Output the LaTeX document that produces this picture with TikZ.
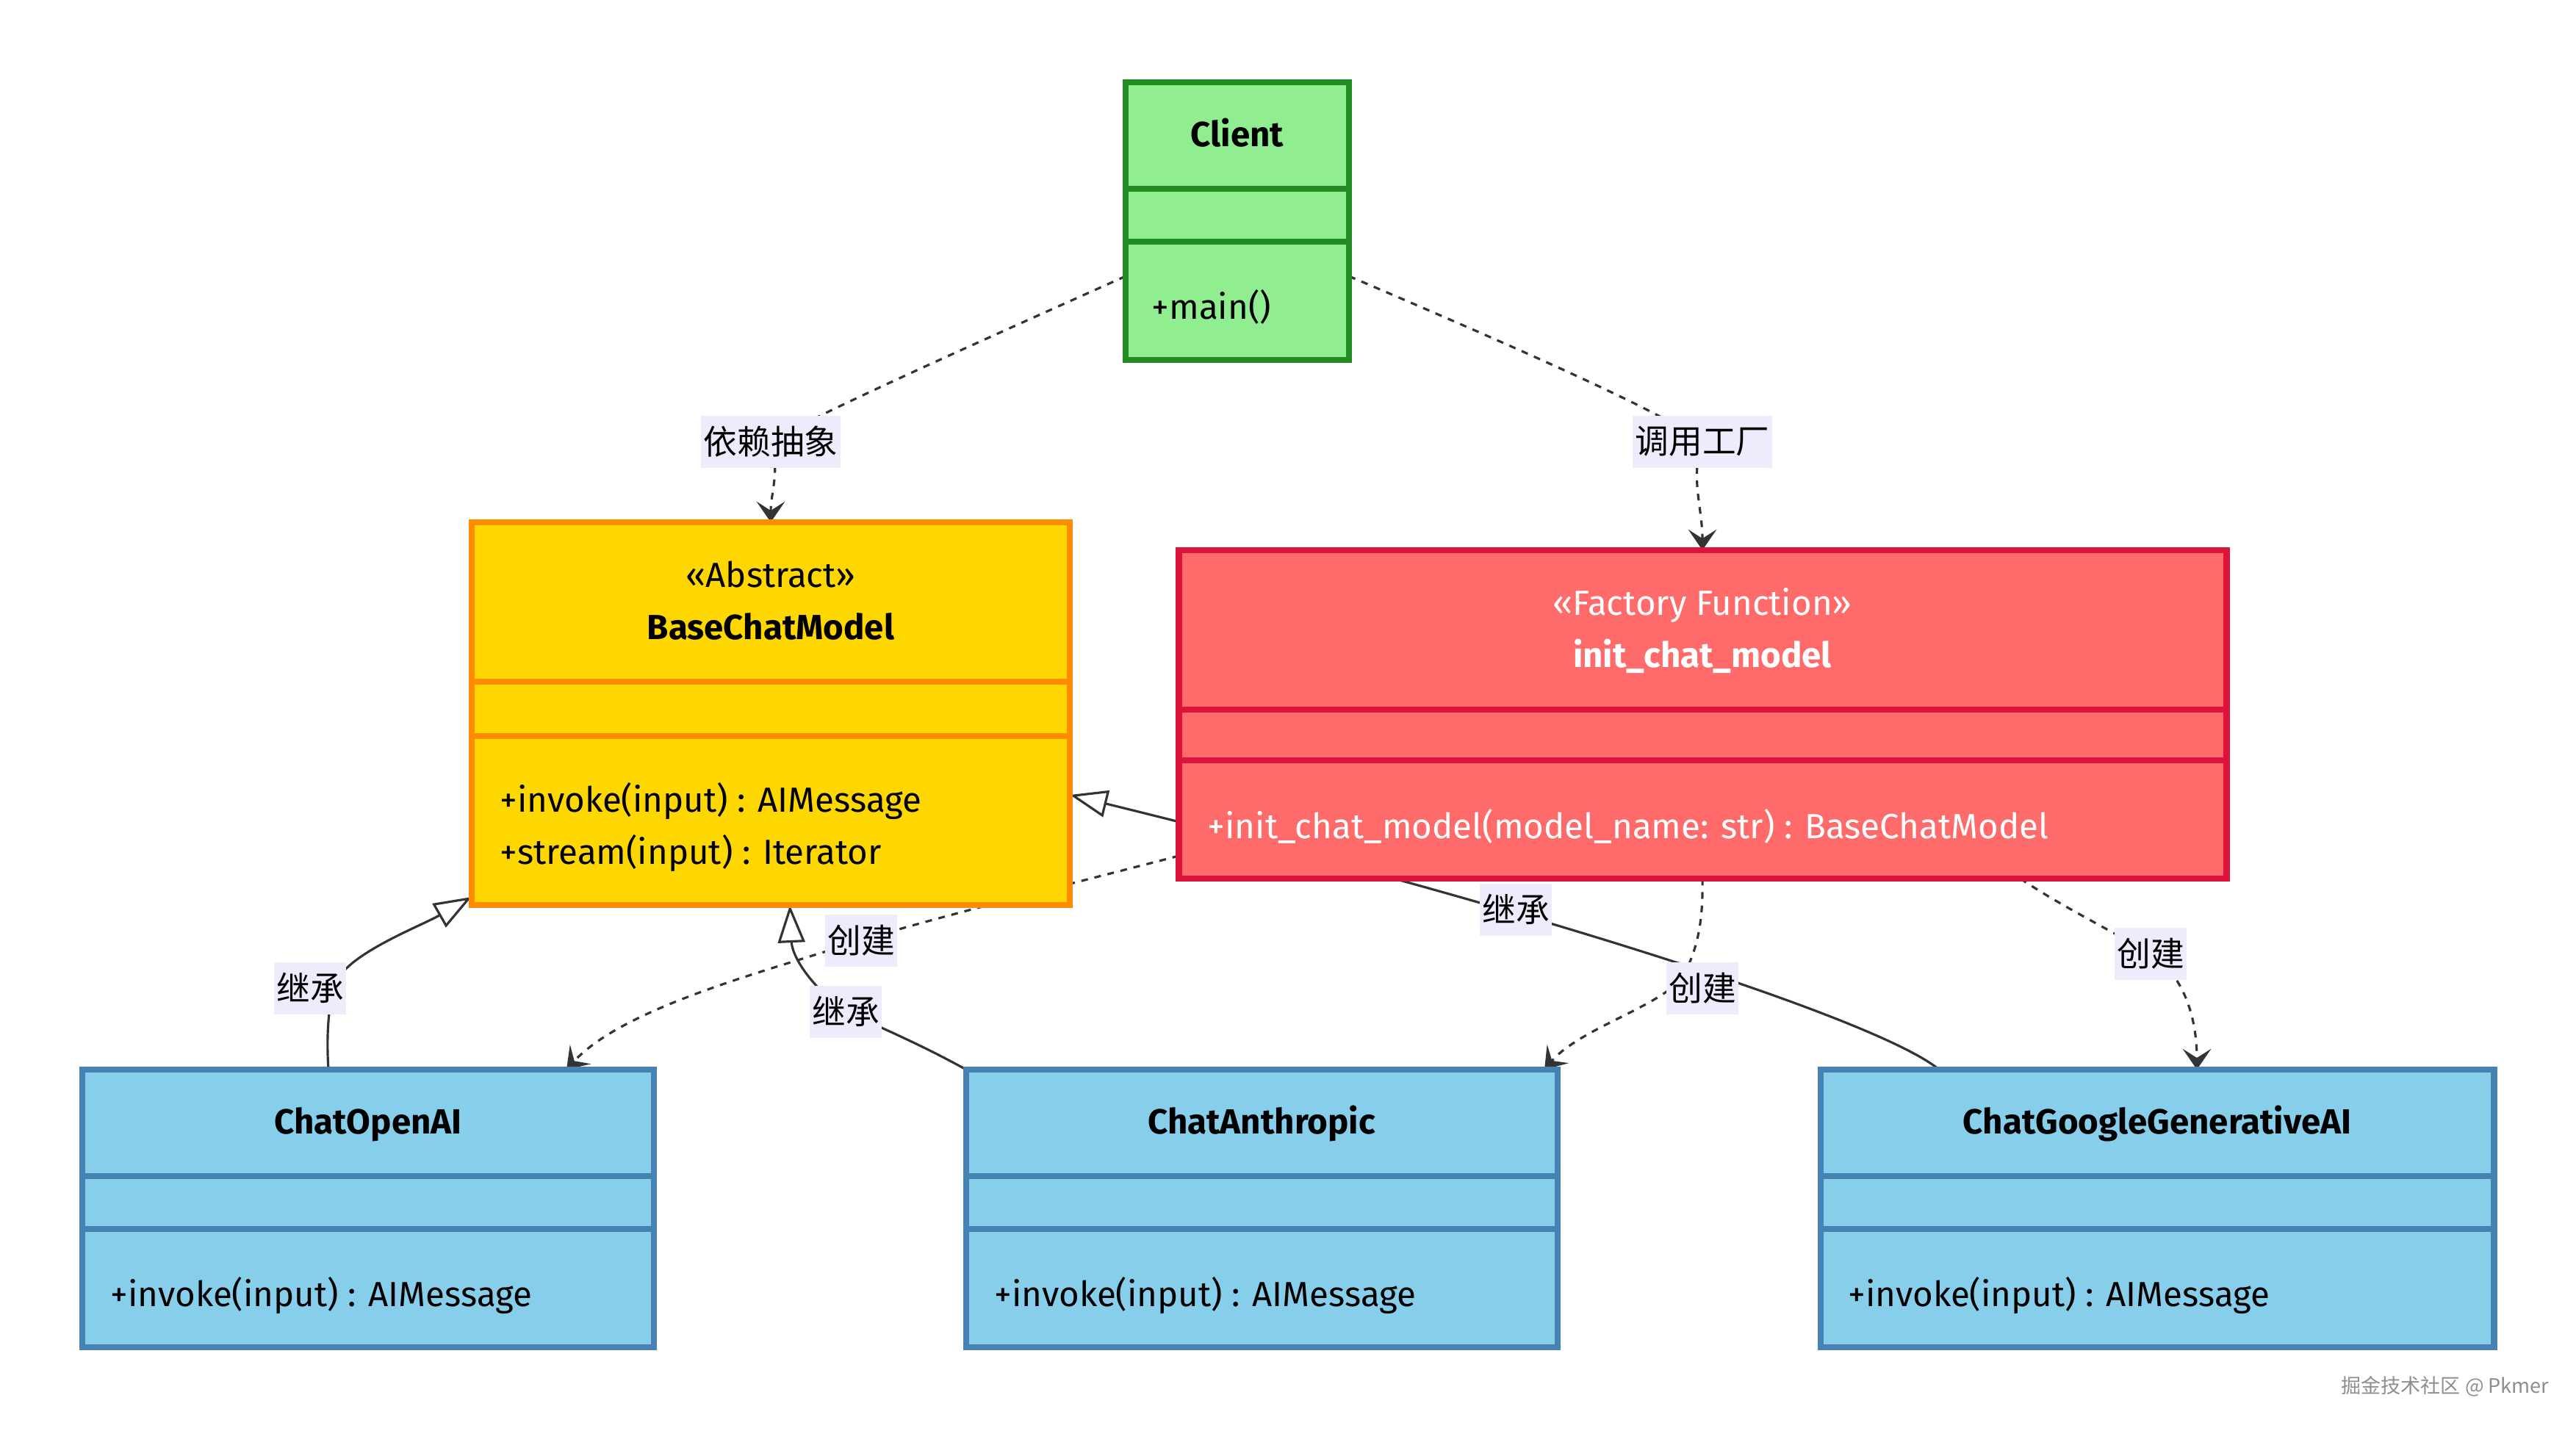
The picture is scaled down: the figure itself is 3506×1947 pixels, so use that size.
\documentclass[tikz,border=0pt]{standalone}
\usepackage{fontspec}
\setmainfont{Fira Sans}
\newfontfamily\cjk{Noto Sans CJK SC}
\usetikzlibrary{arrows.meta,backgrounds}

\definecolor{clientfill}{HTML}{90EE90}
\definecolor{clientline}{HTML}{228B22}
\definecolor{basefill}{HTML}{FFD700}
\definecolor{basedraw}{HTML}{FF8C00}
\definecolor{factfill}{HTML}{FF6B6B}
\definecolor{factline}{HTML}{DC143C}
\definecolor{provfill}{HTML}{87CEEB}
\definecolor{provline}{HTML}{4682B4}
\definecolor{edgecol}{HTML}{333333}
\definecolor{lblfill}{HTML}{ECECFC}
\definecolor{wmgray}{HTML}{8E8E8E}

\newcommand{\boxfont}{\fontsize{13.5pt}{16pt}\selectfont}

\tikzset{
  cls/.style={line width=2.4pt, inner sep=0pt, outer sep=0pt},
  clstitle/.style={font=\boxfont\bfseries, inner sep=0pt, text height=0.95em, text depth=0pt},
  stereo/.style={font=\boxfont, inner sep=0pt, text height=0.95em, text depth=0pt},
  member/.style={font=\boxfont, inner sep=0pt, anchor=west, text height=0.95em, text depth=0pt},
  lbl/.style={fill=lblfill, font=\fontsize{13pt}{15pt}\selectfont\cjk, inner xsep=1pt, inner ysep=0pt, minimum height=20.2pt},
  conn/.style={draw=edgecol, line width=0.9pt},
  dep/.style={conn, dash pattern=on 2.6pt off 2.6pt, -{Stealth[length=8pt,width=11pt,inset=3.5pt]}},
  inh/.style={conn, -{Triangle[open,length=14.5pt,width=10.5pt]}},
}

\begin{document}
\begin{tikzpicture}[x=0.01cm, y=-0.01cm]
  \useasboundingbox (0,0) rectangle (3506,1947);

  % class boxes
  \node[cls, draw=clientline, fill=clientfill, minimum width=3.04cm, minimum height=3.78cm] (client) at (1684,301) {};
  \node[cls, draw=basedraw, fill=basefill, minimum width=8.14cm, minimum height=5.21cm] (base) at (1049,971.5) {};
  \node[cls, draw=factline, fill=factfill, minimum width=14.25cm, minimum height=4.47cm] (init) at (2317.5,972.5) {};
  \node[cls, draw=provline, fill=provfill, minimum width=7.78cm, minimum height=3.78cm] (openai) at (501,1645) {};
  \node[cls, draw=provline, fill=provfill, minimum width=8.05cm, minimum height=3.78cm] (anthropic) at (1717.5,1645) {};
  \node[cls, draw=provline, fill=provfill, minimum width=9.16cm, minimum height=3.78cm] (google) at (2936,1645) {};

  % compartments
  \draw[cls, clientline] (client.west |- 0,257) -- (client.east |- 0,257)
                         (client.west |- 0,329) -- (client.east |- 0,329);
  \draw[cls, basedraw] (base.west |- 0,928) -- (base.east |- 0,928)
                       (base.west |- 0,1002) -- (base.east |- 0,1002);
  \draw[cls, factline] (init.west |- 0,966) -- (init.east |- 0,966)
                       (init.west |- 0,1035) -- (init.east |- 0,1035);
  \draw[cls, provline] (openai.west |- 0,1601) -- (openai.east |- 0,1601)
                       (openai.west |- 0,1673) -- (openai.east |- 0,1673);
  \draw[cls, provline] (anthropic.west |- 0,1601) -- (anthropic.east |- 0,1601)
                       (anthropic.west |- 0,1673) -- (anthropic.east |- 0,1673);
  \draw[cls, provline] (google.west |- 0,1601) -- (google.east |- 0,1601)
                       (google.west |- 0,1673) -- (google.east |- 0,1673);

  % texts
  \node[clstitle] (clientname) at (1684,183) {Client};
  \node[member] (clientop) at (1567,418) {+main()};
  \node[stereo] (basest) at (1049,783) {«Abstract»};
  \node[clstitle] (basename) at (1049,854) {BaseChatModel};
  \node[member] (baseop1) at (680,1089) {+invoke(input) : AIMessage};
  \node[member] (baseop2) at (680,1160) {+stream(input) : Iterator};
  \node[stereo, text=white] (initst) at (2317,821) {«Factory Function»};
  \node[clstitle, text=white] (initname) at (2317,892) {init\_chat\_model};
  \node[member, text=white] (initop) at (1643,1125) {+init\_chat\_model(model\_name: str) : BaseChatModel};
  \node[clstitle] (openainame) at (501,1527) {ChatOpenAI};
  \node[member] (openaiop) at (150,1762) {+invoke(input) : AIMessage};
  \node[clstitle] (anthropicname) at (1717,1527) {ChatAnthropic};
  \node[member] (anthropicop) at (1353,1762) {+invoke(input) : AIMessage};
  \node[clstitle] (googlename) at (2936,1527) {ChatGoogleGenerativeAI};
  \node[member] (googleop) at (2515,1762) {+invoke(input) : AIMessage};

  % edge labels
  \node[lbl] (l1) at (1049,601) {依赖抽象};
  \node[lbl] (l2) at (2317,601) {调用工厂};
  \node[lbl] (l3) at (422,1345) {继承};
  \node[lbl] (l4) at (1172,1280) {创建};
  \node[lbl] (l5) at (1151,1377) {继承};
  \node[lbl] (l6) at (2063,1238) {继承};
  \node[lbl] (l7) at (2317,1345) {创建};
  \node[lbl] (l8) at (2927,1298) {创建};

  \node[font=\fontsize{7.7pt}{9pt}\selectfont\cjk, text=wmgray, inner sep=0pt] (wm) at (3328,1887) {掘金技术社区 @ Pkmer};

  \begin{scope}[on background layer]
    \fill[white] (0,0) rectangle (3506,1947);
    % dependencies
    \draw[dep] (client.west |- 0,376) .. controls (1300,480) and (1120,560) .. (l1.center)
               .. controls (1062,640) and (1049,670) .. (l1.center |- base.north);
    \draw[dep] (client.east |- 0,376) .. controls (2080,480) and (2260,560) .. (l2.center)
               .. controls (2300,650) and (2317,690) .. (l2.center |- init.north);
    % inheritance
    \draw[inh] (447,0 |- openai.north) .. controls (444,1410) and (447,1370) .. (455,1342)
               .. controls (468,1300) and (570,1262) .. (base.west |- 0,1221);
    \draw[inh] (anthropic.north west) .. controls (1250,1420) and (1190,1395) .. (l5.center)
               .. controls (1100,1340) and (1078,1300) .. (1075,0 |- base.south);
    \draw[inh] (2639,0 |- google.north) .. controls (2560,1390) and (2100,1240) .. (base.east |- 0,1082);
    % creation
    \draw[dep] (init.west |- 0,1165) .. controls (1450,1205) and (1270,1250) .. (l4.center)
               .. controls (1050,1320) and (850,1370) .. (771,0 |- openai.north);
    \draw[dep] (2317,0 |- init.south) .. controls (2318,1250) and (2312,1290) .. (2290,1330)
               .. controls (2260,1370) and (2150,1400) .. (2102,0 |- anthropic.north);
    \draw[dep] (2750,0 |- init.south) .. controls (2800,1230) and (2860,1260) .. (l8.center)
               .. controls (2975,1330) and (2990,1390) .. (2990,0 |- google.north);
  \end{scope}
\end{tikzpicture}
\end{document}
